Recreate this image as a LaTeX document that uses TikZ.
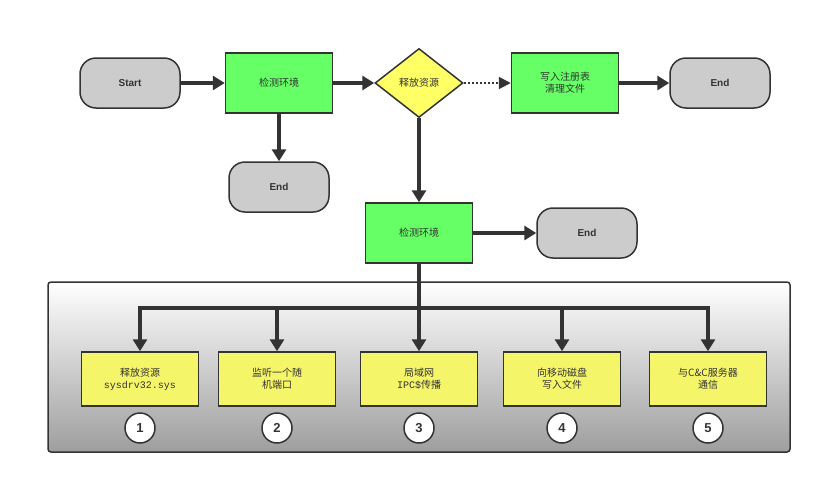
\documentclass[tikz,border=0pt]{standalone}
\usepackage{fontspec}
\setmainfont{Liberation Sans}
\newfontfamily\cjk{Noto Sans CJK SC}
\newfontfamily\mono{Liberation Mono}
\usetikzlibrary{shapes.geometric,arrows.meta}
\definecolor{ln}{HTML}{333333}
\definecolor{gr}{HTML}{66FF66}
\definecolor{yl}{HTML}{F5F56A}
\definecolor{yd}{HTML}{FFFF66}
\definecolor{tg}{HTML}{CCCCCC}
\begin{document}
\begin{tikzpicture}[x=1pt,y=-1pt,
 every node/.style={font=\cjk\fontsize{10}{12}\selectfont, text=ln, align=center},
 term/.style={draw=ln,line width=1.5pt,fill=tg,rounded corners=16pt,minimum width=100pt,minimum height=50pt,font=\bfseries\fontsize{10}{12}\selectfont},
 proc/.style={draw=ln,line width=1.5pt,fill=gr,minimum width=107pt,minimum height=60pt},
 task/.style={draw=ln,line width=1.5pt,fill=yl,minimum width=117pt,minimum height=54pt},
 num/.style={circle,draw=ln,line width=1.5pt,fill=white,minimum size=30pt,inner sep=0pt,font=\bfseries\fontsize{13}{14}\selectfont},
 arr/.style={draw=ln,line width=3.5pt,-{Triangle[length=12pt,width=14pt]}},
]
\useasboundingbox (0,0) rectangle (821,485);
\shade[top color=white,bottom color=black!38,rounded corners=3pt] (48,282) rectangle (790,452);
\draw[ln,line width=1.5pt,rounded corners=3pt] (48,282) rectangle (790,452);

\node[term] (start) at (130,83) {Start};
\node[proc] (c1) at (279,83) {检测环境};
\node[diamond,draw=ln,line width=1.5pt,fill=yd,minimum width=88pt,minimum height=69pt,inner sep=0pt,aspect=1.3] (d) at (419,83) {释放资源};
\node[proc] (reg) at (565,83) {写入注册表\\清理文件};
\node[term] (e1) at (720,83) {End};
\node[term] (e2) at (279,187) {End};
\node[proc] (c2) at (419,233) {检测环境};
\node[term] (e3) at (587,233) {End};

\draw[arr] (start) -- (c1);
\draw[arr] (c1) -- (d);
\draw[ln,line width=2pt,dotted,-{Triangle[length=12pt,width=12pt]}] (d) -- (reg);
\draw[arr] (reg) -- (e1);
\draw[arr] (c1) -- (e2);
\draw[arr] (d) -- (c2);
\draw[arr] (c2) -- (e3);

\node[task] (t1) at (140,379) {释放资源\\{\mono sysdrv32.sys}};
\node[task] (t2) at (277,379) {监听一个随\\机端口};
\node[task] (t3) at (419,379) {局域网\\{\mono IPC\$}传播};
\node[task] (t4) at (562,379) {向移动磁盘\\写入文件};
\node[task] (t5) at (708,379) {与C\&C服务器\\通信};
\coordinate (j) at (419,308);
\draw[ln,line width=3.5pt] (c2.south) -- (j);
\foreach \t in {t1,t2,t3,t4,t5} \draw[arr] (j) -| (\t.north);
\foreach \i/\x in {1/140,2/277,3/419,4/562,5/708} \node[num] (n\i) at (\x,428) {\i};
\end{tikzpicture}
\end{document}
